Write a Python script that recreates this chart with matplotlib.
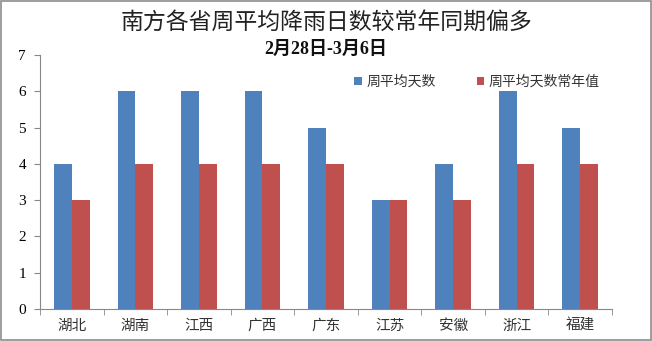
import numpy as np
import matplotlib.pyplot as plt
from matplotlib.patches import Rectangle

plt.rcParams['font.family'] = ['Noto Sans CJK SC', 'DejaVu Sans']

provinces = ["湖北", "湖南", "江西", "广西", "广东", "江苏", "安徽", "浙江", "福建"]
week_days = [4, 6, 6, 6, 5, 3, 4, 6, 5]
normal_days = [3, 4, 4, 4, 4, 3, 3, 4, 4]

BLUE = "#4F81BD"
RED = "#C0504D"

fig = plt.figure(figsize=(6.52, 3.41), dpi=100)
ax = fig.add_axes([0.0613, 0.0938, 0.8774, 0.745])

x = np.arange(len(provinces))
w = 0.28
ax.bar(x - w / 2, week_days, w, color=BLUE, label="周平均天数")
ax.bar(x + w / 2, normal_days, w, color=RED, label="周平均天数常年值")

ax.set_xlim(-0.5, len(provinces) - 0.5)
ax.set_ylim(0, 7)
ax.set_yticks(range(8))
ax.set_yticklabels([str(i) for i in range(8)], family="Liberation Serif", fontsize=11)
ax.set_xticks(x)
ax.set_xticklabels(provinces, fontsize=10.5, color="#333333")
ax.tick_params(axis="x", length=0, pad=7)
ax.set_xticks(np.arange(-0.5, len(provinces)), minor=True)
ax.tick_params(axis="x", which="minor", length=4, color="#888888", direction="out")
ax.tick_params(axis="y", length=4, color="#888888", direction="out", pad=6)

for s in ["top", "right"]:
    ax.spines[s].set_visible(False)
for s in ["left", "bottom"]:
    ax.spines[s].set_color("#888888")
    ax.spines[s].set_linewidth(0.8)

ax.legend(loc="upper left", bbox_to_anchor=(0.535, 0.955), ncol=2, frameon=False,
          fontsize=10, handlelength=0.55, handleheight=0.55, handletextpad=0.35,
          columnspacing=2.9, borderaxespad=0.2, labelcolor="#333333")

fig.text(0.5, 0.935, "南方各省周平均降雨日数较常年同期偏多", ha="center", va="center",
         fontsize=16.5, color="#222222")
fig.text(0.5, 0.855, "2月28日-3月6日", ha="center", va="center", fontsize=13,
         fontweight="bold", family=["Liberation Serif", "Noto Sans CJK SC"], color="#111111")

fig.patches.append(Rectangle((0.002, 0.003), 0.996, 0.994, transform=fig.transFigure,
                             fill=False, edgecolor="#8c8c8c", linewidth=1.2))

fig.savefig("out.png", dpi=100)
